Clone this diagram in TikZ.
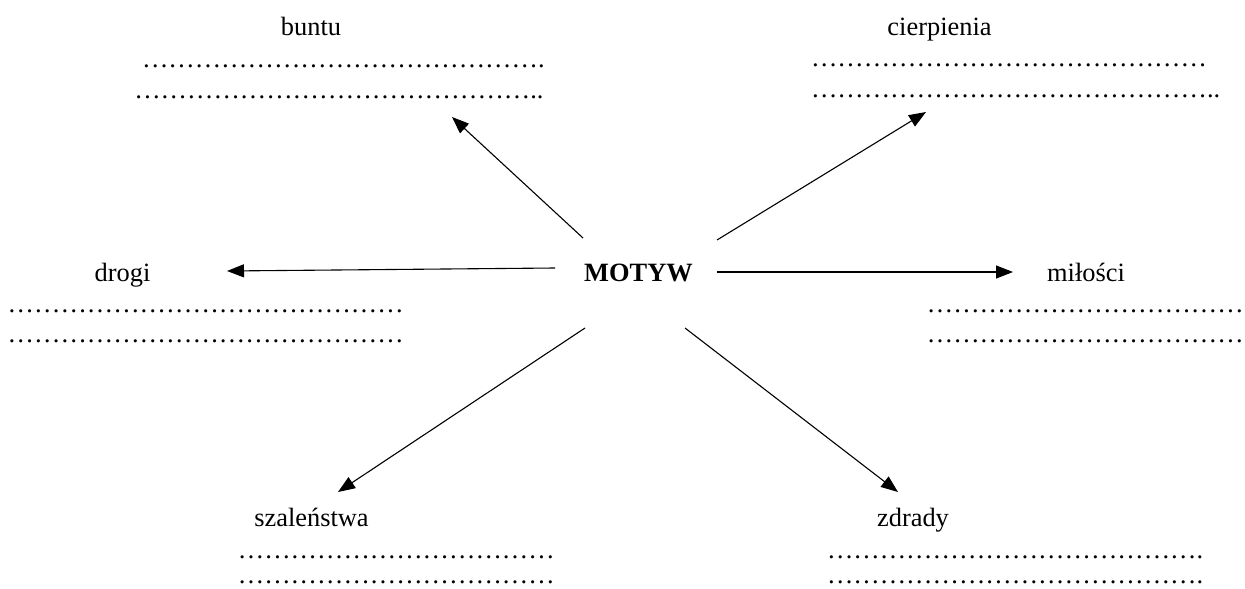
\documentclass[tikz,border=0pt]{standalone}
\usepackage{fontspec}
\setmainfont{Liberation Serif}
\usetikzlibrary{arrows.meta}
\newcommand\ellrow[2]{\foreach \k in {1,...,#1}{…}#2}
\begin{document}
\begin{tikzpicture}[x=0.5pt,y=-0.5pt,
  lbl/.style={anchor=base,inner sep=0pt,font=\fontsize{13.2}{15}\selectfont},
  dotrow/.style={anchor=base west,inner sep=0pt,font=\fontsize{13.2}{15}\selectfont},
  conn/.style={line width=0.55pt,-{Triangle[length=8.5pt,width=6.5pt]}}]
\useasboundingbox (0,0) rectangle (1245,588);

% labels
\node[lbl,font=\fontsize{13.2}{15}\selectfont\bfseries] (motyw) at (638.5,281.5) {MOTYW};
\node[lbl] (buntu) at (311,36) {buntu};
\node[lbl] (cierp) at (939.5,35.5) {cierpienia};
\node[lbl] (drogi) at (122.5,281.5) {drogi};
\node[lbl] (milosci) at (1086,281.5) {miłości};
\node[lbl] (szal) at (311.5,526.5) {szaleństwa};
\node[lbl] (zdrady) at (913,526.5) {zdrady};

% dotted answer lines
\node[dotrow] (b1) at (141.6,67.5) {\ellrow{15}{.}};
\node[dotrow] (b2) at (133.9,98.5) {\ellrow{15}{..}};
\node[dotrow] (c1) at (810.6,66.5) {\ellrow{15}{}};
\node[dotrow] (c2) at (810.6,97.5) {\ellrow{15}{..}};
\node[dotrow] (d1) at (7.3,312.5) {\ellrow{15}{}};
\node[dotrow] (d2) at (7.3,342.5) {\ellrow{15}{}};
\node[dotrow] (m1) at (926.5,312.5) {\ellrow{12}{}};
\node[dotrow] (m2) at (926.5,342.5) {\ellrow{12}{}};
\node[dotrow] (s1) at (237.5,558.5) {\ellrow{12}{}};
\node[dotrow] (s2) at (237.5,583) {\ellrow{12}{}};
\node[dotrow] (z1) at (826.6,558.5) {\ellrow{14}{.}};
\node[dotrow] (z2) at (826.6,583) {\ellrow{14}{.}};

% arrow end points
\coordinate (aB0) at (583,238);  \coordinate (aB1) at (452,117);
\coordinate (aC0) at (717,240);  \coordinate (aC1) at (926,112);
\coordinate (aD0) at (555,268);  \coordinate (aD1) at (227,271);
\coordinate (aM0) at (717,272);  \coordinate (aM1) at (1013,272);
\coordinate (aS0) at (585,328);  \coordinate (aS1) at (338,492);
\coordinate (aZ0) at (685,328);  \coordinate (aZ1) at (898,492);

\draw[conn] (aB0) -- (aB1);
\draw[conn] (aC0) -- (aC1);
\draw[conn] (aD0) -- (aD1);
\draw[conn] (aM0) -- (aM1);
\draw[conn] (aS0) -- (aS1);
\draw[conn] (aZ0) -- (aZ1);
\end{tikzpicture}
\end{document}
